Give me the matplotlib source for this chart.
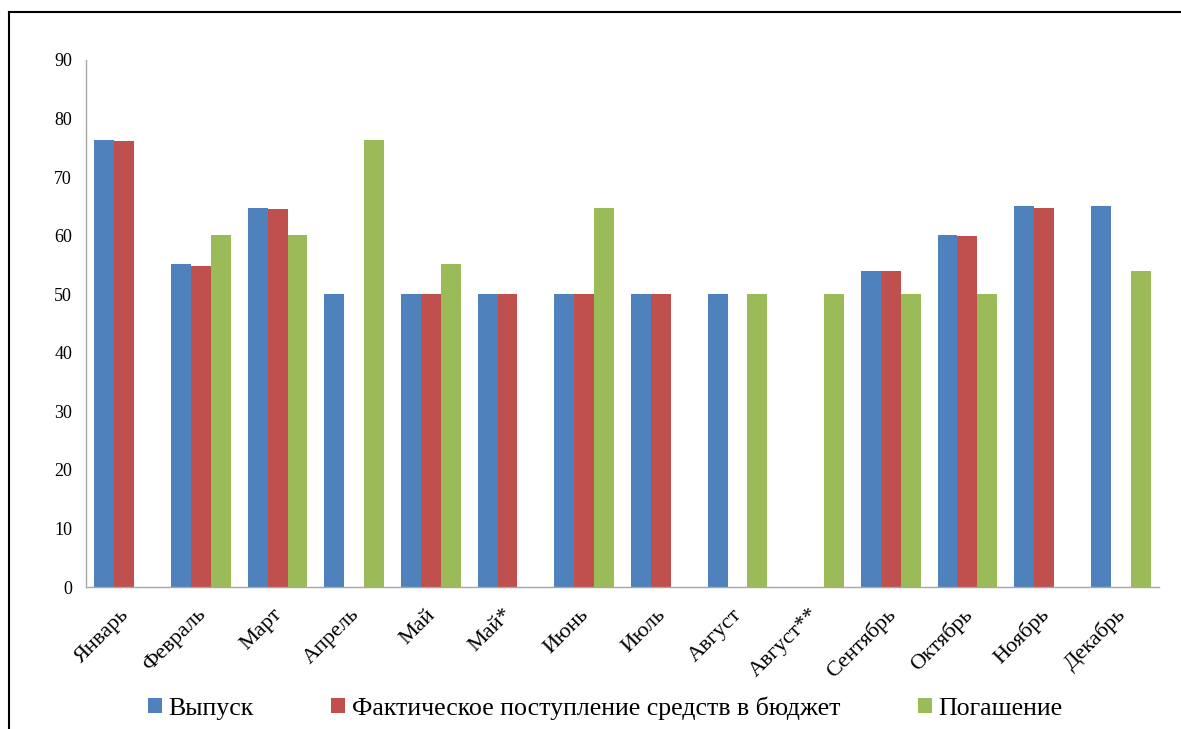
import matplotlib.pyplot as plt
import numpy as np
from matplotlib.lines import Line2D
from matplotlib.transforms import ScaledTranslation

plt.rcParams['font.family'] = ['Liberation Serif', 'DejaVu Serif']

months = ["Январь", "Февраль", "Март", "Апрель", "Май", "Май*", "Июнь",
          "Июль", "Август", "Август**", "Сентябрь", "Октябрь", "Ноябрь", "Декабрь"]

# nan = no bar for that month
vypusk = [76.4, 55.1, 64.8, 50.1, 50.1, 50.1, 50.1, 50.1, 50.1, np.nan, 54.0, 60.1, 65.1, 65.1]
postuplenie = [76.1, 54.9, 64.5, np.nan, 50.0, 50.0, 50.0, 50.0, np.nan, np.nan, 54.0, 59.9, 64.8, np.nan]
pogashenie = [np.nan, 60.1, 60.1, 76.4, 55.1, np.nan, 64.8, np.nan, 50.1, 50.1, 50.1, 50.1, np.nan, 54.0]

series = [
    ("Выпуск", vypusk, "#4F81BD"),
    ("Фактическое поступление средств в бюджет", postuplenie, "#C0504D"),
    ("Погашение", pogashenie, "#9BBB59"),
]

fig = plt.figure(figsize=(11.81, 7.29), dpi=100)
ax = fig.add_axes([86 / 1181, 1 - 587 / 729, (1159 - 86) / 1181, (587 - 60) / 729])

x = np.arange(len(months))
w = 0.26
for i, (name, vals, color) in enumerate(series):
    ax.bar(x + (i - 1) * w, vals, width=w, color=color, label=name)

ax.set_xlim(-0.5, len(months) - 0.5)
ax.set_ylim(0, 90)
ax.set_yticks(range(0, 91, 10))
ax.tick_params(axis='y', length=0, pad=10, labelsize=13)
ax.tick_params(axis='x', length=0, pad=18)
ax.set_xticks(x)
ax.set_xticklabels(months, rotation=45, ha='right', va='center',
                   rotation_mode='anchor', fontsize=16)
shift = ScaledTranslation(2 / 100, 0, fig.dpi_scale_trans)
for lbl in ax.get_xticklabels():
    lbl.set_transform(lbl.get_transform() + shift)

for side in ("top", "right"):
    ax.spines[side].set_visible(False)
for side in ("left", "bottom"):
    ax.spines[side].set_color("#A6A6A6")
    ax.spines[side].set_linewidth(1)

handles, labels = ax.get_legend_handles_labels()
fig.legend(handles, labels, loc='center', bbox_to_anchor=(605 / 1181, 1 - 708 / 729),
           ncol=3, frameon=False, fontsize=18.6, handlelength=0.55, handleheight=0.55,
           handletextpad=0.25, columnspacing=3.0)

# outer frame, left and top edges only
fig.add_artist(Line2D([9 / 1181, 9 / 1181], [0, 1 - 12 / 729], transform=fig.transFigure,
                      color='black', linewidth=1.5))
fig.add_artist(Line2D([9 / 1181, 1], [1 - 12 / 729, 1 - 12 / 729], transform=fig.transFigure,
                      color='black', linewidth=1.5))

fig.savefig("out.png", dpi=100)
